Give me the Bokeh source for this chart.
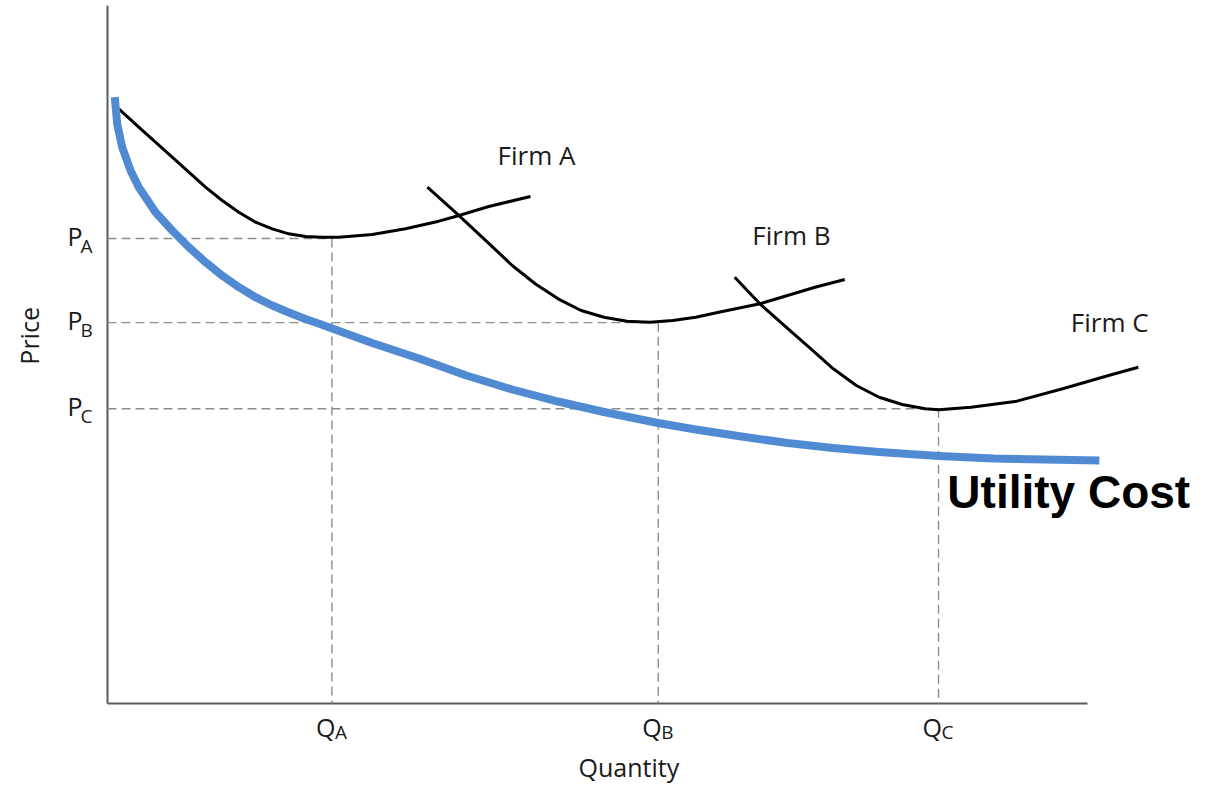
import math
from bokeh.plotting import figure
from bokeh.models import Range1d
from bokeh.core.properties import value
from bokeh.embed import file_html
from bokeh.resources import INLINE

# ---- data (arbitrary units: quantity 0..100, price 0..100) ----
tick_letters = ["A", "B", "C"]
quantity_ticks = [22.9, 56.2, 84.8]   # Q_A, Q_B, Q_C
price_ticks = [66.9, 54.8, 42.4]      # P_A, P_B, P_C

firm_a_x = [1.15, 3.19, 4.90, 6.60, 8.30, 10.0, 11.70, 13.40, 15.10, 16.81, 18.50,
            20.20, 21.91, 23.60, 27.01, 30.41, 33.81, 35.51, 38.91, 43.16]
firm_a_y = [85.57, 82.92, 80.76, 78.60, 76.45, 74.29, 72.37, 70.69, 69.25, 68.30, 67.58,
            67.19, 67.09, 67.09, 67.48, 68.30, 69.40, 70.07, 71.51, 72.95]

firm_b_x = [32.64, 35.68, 38.96, 41.30, 43.64, 45.98, 48.33, 50.66, 53.0, 55.35, 57.68,
            60.02, 62.37, 66.57, 69.39, 72.19, 75.23]
firm_b_y = [74.29, 70.46, 66.14, 63.02, 60.39, 58.23, 56.55, 55.58, 55.01, 54.86, 55.11,
            55.58, 56.30, 57.51, 58.71, 59.90, 61.01]

firm_c_x = [64.0, 66.57, 69.39, 71.72, 74.06, 76.41, 78.74, 81.09, 83.43, 84.83, 88.11,
            92.79, 97.47, 102.15, 105.19]
firm_c_y = [61.34, 57.51, 53.96, 51.08, 48.16, 45.76, 44.07, 43.02, 42.40, 42.26, 42.63,
            43.50, 45.28, 47.19, 48.39]

utility_x = [0.74, 0.99, 1.50, 2.35, 3.19, 4.90, 6.60, 8.30, 10.0, 11.70, 13.40, 15.10,
             16.81, 18.50, 20.20, 21.53, 22.93, 27.01, 31.94, 36.62, 41.30, 45.98, 50.66,
             56.18, 60.02, 64.70, 69.39, 74.06, 78.74, 84.83, 90.45, 101.21]
utility_y = [87.24, 83.41, 80.04, 76.69, 74.29, 70.69, 68.06, 65.65, 63.50, 61.58, 59.90, 58.46,
             57.27, 56.26, 55.32, 54.68, 53.96, 51.87, 49.57, 47.19, 45.18, 43.45, 41.94,
             40.36, 39.42, 38.42, 37.48, 36.76, 36.19, 35.61, 35.25, 34.96]

FONT = value("Open Sans")
TXT = "#1a1a1a"

# frame covers the whole canvas; the axes are drawn as lines inside it
p = figure(width=1200, height=786, output_backend="svg", toolbar_location=None,
           x_range=Range1d(-10.918, 111.531), y_range=Range1d(-11.942, 101.151),
           x_axis_type=None, y_axis_type=None, min_border=0)
p.grid.visible = False
p.outline_line_color = None
p.background_fill_color = "white"
p.border_fill_color = "white"

# axes lines
p.segment(x0=[0, 0], y0=[0, 0], x1=[100, 0], y1=[0, 100.4],
          line_color="#595959", line_width=2)

# dashed guide lines
n = len(price_ticks)
p.segment(x0=[0] * n, y0=price_ticks, x1=quantity_ticks, y1=price_ticks,
          line_color="#8c8c8c", line_width=1.4, line_dash="9 5")
p.segment(x0=quantity_ticks, y0=price_ticks, x1=quantity_ticks, y1=[0] * n,
          line_color="#8c8c8c", line_width=1.4, line_dash="9 5")

# firm curves
for xs, ys in ((firm_a_x, firm_a_y), (firm_b_x, firm_b_y), (firm_c_x, firm_c_y)):
    p.line(xs, ys, line_color="black", line_width=3, line_join="round")

# utility cost curve
p.line(utility_x, utility_y, line_color="#508AD2", line_width=8, line_join="round")

# tick labels with subscripts
p.text(x=[0] * n, y=price_ticks, text=["P"] * n, x_offset=-40, y_offset=-3,
       text_font=FONT, text_font_size="25px", text_color=TXT,
       text_align="left", text_baseline="middle")
p.text(x=[0] * n, y=price_ticks, text=tick_letters, x_offset=-27, y_offset=7,
       text_font=FONT, text_font_size="19px", text_color=TXT,
       text_align="left", text_baseline="middle")
p.text(x=quantity_ticks, y=[0] * n, text=["Q"] * n, x_offset=-16, y_offset=23,
       text_font=FONT, text_font_size="25px", text_color=TXT,
       text_align="left", text_baseline="middle")
p.text(x=quantity_ticks, y=[0] * n, text=tick_letters, x_offset=3, y_offset=28,
       text_font=FONT, text_font_size="19px", text_color=TXT,
       text_align="left", text_baseline="middle")

# axis titles
p.text(x=[53.2], y=[-9.2], text=["Quantity"], text_font=FONT, text_font_size="25px",
       text_color=TXT, text_align="center", text_baseline="middle")
p.text(x=[-8.06], y=[52.9], text=["Price"], text_font=FONT, text_font_size="25px",
       text_color=TXT, angle=math.pi / 2, text_align="center", text_baseline="middle")

# curve labels
p.text(x=[39.8, 65.8, 98.3], y=[78.85, 67.34, 54.96], text=["Firm A", "Firm B", "Firm C"],
       text_font=FONT, text_font_size="26px", text_color=TXT,
       text_align="left", text_baseline="middle")

p.text(x=[85.7], y=[30.4], text=["Utility Cost"], text_font=value("Liberation Sans"),
       text_font_style="bold", text_font_size="46px", text_color="black",
       text_align="left", text_baseline="middle")

open("out.html", "w").write(file_html(p, INLINE))
